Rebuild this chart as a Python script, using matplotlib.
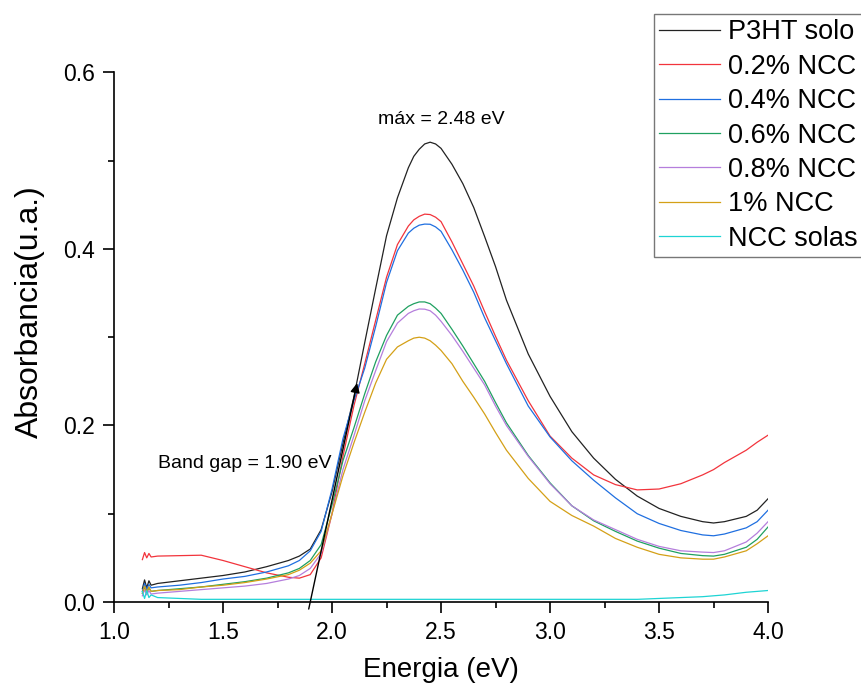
import matplotlib.pyplot as plt
from matplotlib.ticker import MultipleLocator

plt.rcParams['font.family'] = ['Liberation Sans', 'DejaVu Sans']

# energy grid (eV)
energia = [1.13, 1.14, 1.15, 1.16, 1.17, 1.2, 1.3, 1.4, 1.5, 1.6, 1.7, 1.8, 1.85,
           1.9, 1.95, 2.0, 2.05, 2.1, 2.15, 2.2, 2.25, 2.3, 2.35, 2.375, 2.4, 2.425, 2.45,
           2.475, 2.5, 2.55, 2.6, 2.65, 2.7, 2.75, 2.8, 2.9, 3.0, 3.1, 3.2, 3.3, 3.4,
           3.5, 3.6, 3.7, 3.75, 3.8, 3.9, 3.95, 4.0]

p3ht_solo = [0.015, 0.025, 0.016, 0.024, 0.019, 0.021, 0.024, 0.027, 0.030, 0.034, 0.040, 0.047, 0.052,
             0.060, 0.082, 0.125, 0.180, 0.232, 0.294, 0.355, 0.415, 0.458, 0.492, 0.505, 0.513, 0.519, 0.521,
             0.519, 0.514, 0.496, 0.474, 0.447, 0.414, 0.380, 0.342, 0.281, 0.233, 0.193, 0.163, 0.139, 0.120,
             0.106, 0.097, 0.091, 0.0895, 0.091, 0.097, 0.104, 0.117]

ncc_02 = [0.048, 0.056, 0.050, 0.055, 0.051, 0.052, 0.0525, 0.053, 0.047, 0.040, 0.033, 0.028, 0.027,
          0.031, 0.050, 0.100, 0.165, 0.222, 0.270, 0.319, 0.368, 0.405, 0.426, 0.433, 0.437, 0.4395, 0.439,
          0.436, 0.431, 0.408, 0.383, 0.358, 0.329, 0.301, 0.274, 0.228, 0.188, 0.163, 0.144, 0.133, 0.127,
          0.128, 0.134, 0.144, 0.150, 0.158, 0.172, 0.181, 0.189]

ncc_04 = [0.012, 0.021, 0.014, 0.020, 0.016, 0.017, 0.019, 0.022, 0.026, 0.029, 0.034, 0.041, 0.047,
          0.058, 0.080, 0.128, 0.185, 0.228, 0.265, 0.312, 0.362, 0.398, 0.418, 0.4235, 0.427, 0.4282, 0.428,
          0.425, 0.420, 0.399, 0.376, 0.351, 0.322, 0.296, 0.270, 0.222, 0.187, 0.160, 0.138, 0.118, 0.100,
          0.089, 0.081, 0.076, 0.075, 0.077, 0.084, 0.091, 0.104]

ncc_06 = [0.010, 0.017, 0.011, 0.016, 0.012, 0.013, 0.015, 0.017, 0.020, 0.023, 0.027, 0.033, 0.038,
          0.047, 0.065, 0.110, 0.160, 0.197, 0.236, 0.272, 0.302, 0.325, 0.335, 0.338, 0.340, 0.340, 0.338,
          0.333, 0.327, 0.309, 0.290, 0.270, 0.250, 0.226, 0.203, 0.166, 0.135, 0.109, 0.092, 0.080, 0.069,
          0.061, 0.055, 0.0525, 0.052, 0.054, 0.062, 0.071, 0.085]

ncc_08 = [0.007, 0.014, 0.008, 0.013, 0.009, 0.010, 0.012, 0.014, 0.016, 0.018, 0.021, 0.026, 0.030,
          0.038, 0.055, 0.100, 0.150, 0.188, 0.228, 0.262, 0.295, 0.316, 0.327, 0.330, 0.332, 0.3318, 0.330,
          0.325, 0.318, 0.302, 0.284, 0.265, 0.246, 0.222, 0.200, 0.165, 0.134, 0.109, 0.093, 0.082, 0.071,
          0.063, 0.058, 0.0565, 0.056, 0.058, 0.068, 0.078, 0.091]

ncc_1 = [0.010, 0.018, 0.011, 0.017, 0.012, 0.013, 0.014, 0.017, 0.019, 0.022, 0.026, 0.031, 0.036,
         0.044, 0.058, 0.100, 0.143, 0.180, 0.215, 0.248, 0.275, 0.289, 0.296, 0.299, 0.300, 0.299, 0.296,
         0.291, 0.285, 0.270, 0.250, 0.232, 0.213, 0.192, 0.172, 0.140, 0.114, 0.098, 0.086, 0.072, 0.062,
         0.054, 0.050, 0.0485, 0.0485, 0.051, 0.058, 0.066, 0.075]

ncc_solas = [0.012, 0.004, 0.013, 0.005, 0.008, 0.005, 0.004, 0.003, 0.003, 0.003, 0.003, 0.003, 0.003,
             0.003, 0.003, 0.003, 0.003, 0.003, 0.003, 0.003, 0.003, 0.003, 0.003, 0.003, 0.003, 0.003, 0.003,
             0.003, 0.003, 0.003, 0.003, 0.003, 0.003, 0.003, 0.003, 0.003, 0.003, 0.003, 0.003, 0.003, 0.003,
             0.004, 0.005, 0.006, 0.007, 0.008, 0.011, 0.012, 0.013]

series = [p3ht_solo, ncc_02, ncc_04, ncc_06, ncc_08, ncc_1, ncc_solas]
labels = ['P3HT solo', '0.2% NCC', '0.4% NCC', '0.6% NCC', '0.8% NCC', '1% NCC', 'NCC solas']
colors = ['#222222', '#F2343C', '#1F6FE0', '#1FA060', '#B57EDC', '#D4A017', '#1ED4D4']

fig = plt.figure(figsize=(8.62, 6.85), dpi=100)
ax = fig.add_axes([0.1323, 0.1212, 0.7587, 0.773])

for y, lab, c in zip(series, labels, colors):
    ax.plot(energia, y, color=c, lw=0.9, label=lab)

# tangent line for the band gap
ax.annotate('', xy=(2.115, 0.248), xytext=(1.893, -0.008),
            arrowprops=dict(arrowstyle='-|>', color='black', lw=1,
                            mutation_scale=14, shrinkA=0, shrinkB=0),
            annotation_clip=False)
ax.text(2.21, 0.547, 'máx = 2.48 eV', fontsize=14, ha='left', va='center')
ax.text(1.203, 0.157, 'Band gap = 1.90 eV', fontsize=14, ha='left', va='center')

ax.set_xlim(1.0, 4.0)
ax.set_ylim(0.0, 0.6)
ax.xaxis.set_major_locator(MultipleLocator(0.5))
ax.xaxis.set_minor_locator(MultipleLocator(0.25))
ax.yaxis.set_major_locator(MultipleLocator(0.2))
ax.yaxis.set_minor_locator(MultipleLocator(0.1))

for s in ['top', 'right']:
    ax.spines[s].set_visible(False)
for s in ['left', 'bottom']:
    ax.spines[s].set_linewidth(1.2)

ax.tick_params(which='major', direction='out', length=8, width=1.2, labelsize=16.5, pad=6)
ax.tick_params(which='minor', direction='out', length=4.5, width=1.2)

ax.set_xlabel('Energia (eV)', fontsize=20, labelpad=9)
ax.set_ylabel('Absorbancia(u.a.)', fontsize=23)
ax.yaxis.set_label_coords(-0.106, 0.548)

leg = fig.legend(loc='upper left', bbox_to_anchor=(0.7587, 0.9796),
                 bbox_transform=fig.transFigure, fontsize=19.5, frameon=True,
                 fancybox=False, borderpad=0.2, labelspacing=0.31,
                 handlelength=2.25, handletextpad=0.3, borderaxespad=0)
leg.get_frame().set_edgecolor('#555555')
leg.get_frame().set_linewidth(1.0)

fig.savefig('out.png', dpi=100)
